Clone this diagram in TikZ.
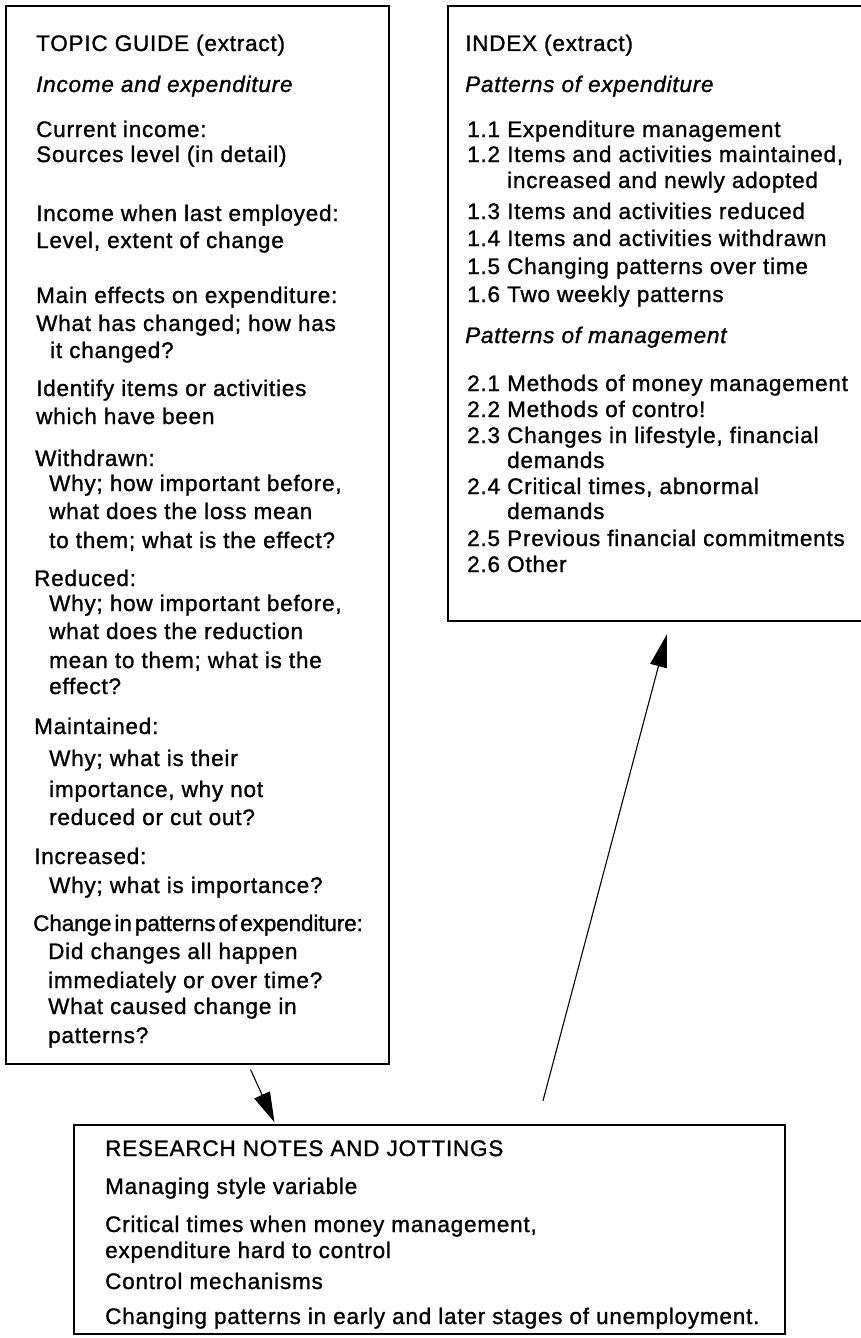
\documentclass[tikz,border=0pt]{standalone}
\usepackage{fontspec}
\setmainfont{Liberation Sans}[LetterSpace=3.5, FakeBold=1.2]
\newfontfamily\tightfont{Liberation Sans}[WordSpace=0.5, LetterSpace=-0.5, FakeBold=1.2]
\usetikzlibrary{arrows.meta}

\begin{document}
\begin{tikzpicture}[x=1pt,y=-1pt,
  frame/.style={draw, line width=1.6pt, rectangle, anchor=north west, inner sep=0pt},
  txt/.style={anchor=base west, inner sep=0pt, font=\fontsize{22.5}{26}\selectfont},
  link/.style={line width=1.1pt, -{Triangle[length=30pt,width=17pt]}}]
\useasboundingbox (0,0) rectangle (861,1338);

% the three boxes
\node[frame, minimum width=383pt, minimum height=1058pt] (guide) at (5,5) {};
\node[frame, minimum width=419pt, minimum height=615pt] (index) at (447,5) {};
\node[frame, minimum width=711pt, minimum height=209pt] (notes) at (73,1124) {};

% topic guide
\foreach \gy/\gx/\gt [count=\i] in {
  51/36/{TOPIC GUIDE (extract)},
  92/36/{\itshape Income and expenditure},
  137/36/{Current income:},
  162/36/{Sources level (in detail)},
  221/36/{Income when last employed:},
  248/36/{Level, extent of change},
  303/36/{Main effects on expenditure:},
  331/36/{What has changed; how has},
  358/50/{it changed?},
  396/36/{Identify items or activities},
  424/36/{which have been},
  466/35/{Withdrawn:},
  491/49/{Why; how important before,},
  519/49/{what does the loss mean},
  548/49/{to them; what is the effect?},
  586/34/{Reduced:},
  611/49/{Why; how important before,},
  639/49/{what does the reduction},
  668/49/{mean to them; what is the},
  694/49/{effect?},
  734/34/{Maintained:},
  766/49/{Why; what is their},
  797/49/{importance, why not},
  825/49/{reduced or cut out?},
  864/34/{Increased:},
  893/49/{Why; what is importance?},
  931/33/{\tightfont Change in patterns of expenditure:},
  959/48/{Did changes all happen},
  988/48/{immediately or over time?},
  1014/48/{What caused change in},
  1043/48/{patterns?}}
  \node[txt] (g\i) at (\gx,\gy) {\gt};

% index
\foreach \gy/\gx/\gt [count=\i] in {
  51/465/{INDEX (extract)},
  92/465/{\itshape Patterns of expenditure},
  137/467/{\makebox[40pt][l]{1.1}Expenditure management},
  162/467/{\makebox[40pt][l]{1.2}Items and activities maintained,},
  188/507/{increased and newly adopted},
  219/467/{\makebox[40pt][l]{1.3}Items and activities reduced},
  246/467/{\makebox[40pt][l]{1.4}Items and activities withdrawn},
  274/467/{\makebox[40pt][l]{1.5}Changing patterns over time},
  302/467/{\makebox[40pt][l]{1.6}Two weekly patterns},
  343/465/{\itshape Patterns of management},
  391/467/{\makebox[40pt][l]{2.1}Methods of money management},
  417/467/{\makebox[40pt][l]{2.2}Methods of contro!},
  443/467/{\makebox[40pt][l]{2.3}Changes in lifestyle, financial},
  468/507/{demands},
  494/467/{\makebox[40pt][l]{2.4}Critical times, abnormal},
  519/507/{demands},
  546/467/{\makebox[40pt][l]{2.5}Previous financial commitments},
  572/467/{\makebox[40pt][l]{2.6}Other}}
  \node[txt] (x\i) at (\gx,\gy) {\gt};

% research notes
\foreach \gy/\gx/\gt [count=\i] in {
  1156/105/{RESEARCH NOTES AND JOTTINGS},
  1194/105/{Managing style variable},
  1232/105/{Critical times when money management,},
  1258/105/{expenditure hard to control},
  1289/105/{Control mechanisms},
  1324/105/{Changing patterns in early and later stages of unemployment.}}
  \node[txt] (n\i) at (\gx,\gy) {\gt};

% connectors
\draw[link, shorten <=5.5pt, shorten >=2pt]
  ([xshift=51pt]guide.south) -- ([xshift=-154pt]notes.north);
\draw[link, -{Triangle[length=33pt,width=17pt]}, shorten <=24pt, shorten >=13pt]
  ([xshift=107.5pt]notes.north) -- ([xshift=13pt]index.south);
\end{tikzpicture}
\end{document}
